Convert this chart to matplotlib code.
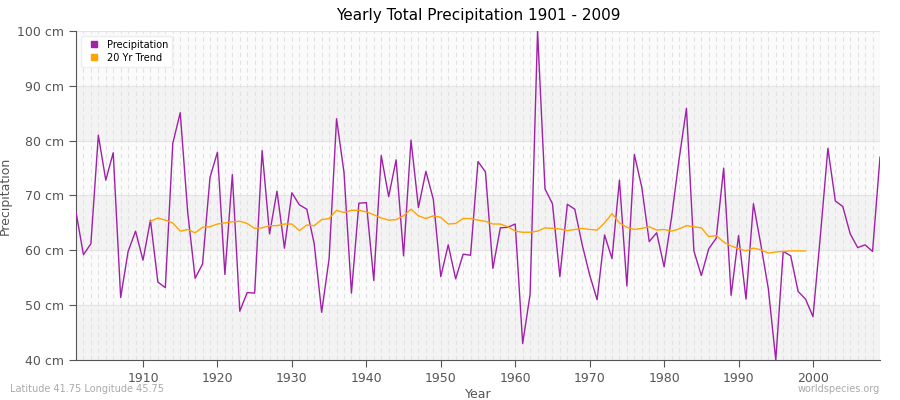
import matplotlib
matplotlib.use("Agg")
import matplotlib.pyplot as plt
import numpy as np

years = list(range(1901, 2010))
precip = [67, 59.2, 61.2, 81, 72.8, 77.8, 51.4, 59.8, 63.5, 58.2,
          65.5, 54.2, 53.2, 79.5, 85.1, 67, 54.9, 57.5, 73.3, 77.9,
          55.6, 73.8, 48.9, 52.3, 52.2, 78.2, 63, 70.8, 60.4, 70.5,
          68.3, 67.5, 61.2, 48.7, 58.5, 84, 74.2, 52.2, 68.6, 68.7,
          54.5, 77.3, 69.8, 76.5, 59, 80.1, 67.8, 74.4, 69.3, 55.2,
          61, 54.8, 59.3, 59.1, 76.2, 74.3, 56.7, 64.1, 64.2, 64.8,
          43, 52, 100, 71.2, 68.5, 55.2, 68.4, 67.5, 61, 55.5,
          51, 62.8, 58.5, 72.8, 53.5, 77.5, 71.5, 61.6, 63.2, 57,
          66, 76.5, 85.9, 59.9, 55.4, 60.3, 62.2, 75, 51.8, 62.7,
          51.1, 68.5, 61, 53, 40, 59.8, 59, 52.5, 51.1, 47.9,
          62.8, 78.6, 69, 68, 63, 60.5, 61, 59.8, 77]
trend = [65.3, 65.9, 65.5, 65, 63.5, 63.8, 63.2, 64.2, 64.3, 64.8,
         65, 65.2, 65.3, 64.9, 64, 64.1, 64.5, 64.5, 64.8, 64.8,
         63.6, 64.6, 64.5, 65.6, 65.8, 67.3, 66.9, 67.3, 67.3, 67,
         66.5, 65.9, 65.5, 65.6, 66.3, 67.5, 66.3, 65.8, 66.3, 66,
         64.8, 64.9, 65.8, 65.8, 65.5, 65.3, 64.8, 64.8, 64.3, 63.5,
         63.3, 63.3, 63.5, 64.1, 64, 63.9, 63.6, 63.8, 64, 63.8,
         63.7, 65, 66.7, 65, 64.2, 63.8, 64, 64.3, 63.7, 63.8,
         63.5, 63.9, 64.5, 64.3, 64.1, 62.5, 62.7, 61.5, 60.8, 60.3,
         59.9, 60.4, 60.1, 59.5, 59.7, 59.8, 59.9, 59.9, 59.9]
trend_years = list(range(1999 - len(trend) + 1, 2000))

fig = plt.figure(figsize=(9, 4), dpi=100)
ax = fig.add_axes([76/900, 40/400, 804/900, 329/400])
ax.set_xlim(1901, 2009)
ax.set_ylim(40, 100)
for lo in range(40, 100, 10):
    ax.axhspan(lo, lo + 10, color='#f3f3f3' if (lo // 10) % 2 == 0 else '#fbfbfb', zorder=0, lw=0)
for yv in range(40, 101, 10):
    ax.axhline(yv, color='#e4e4e4', lw=0.8, zorder=1)
for xv in range(1901, 2010):
    ax.axvline(xv, color='#e2e2e2', lw=0.8, ls=(0, (4, 3)), zorder=1)

ax.plot(years, precip, color='#a020a8', lw=1.0, zorder=3, label='Precipitation')
ax.plot(trend_years, trend, color='#ffa500', lw=1.0, zorder=3, label='20 Yr Trend')

ax.set_xticks(range(1910, 2001, 10))
ax.set_yticks(range(40, 101, 10))
ax.set_yticklabels([f"{v} cm" for v in range(40, 101, 10)])
ax.tick_params(colors='#555555', labelsize=9, length=5)
for s in ['top', 'right']:
    ax.spines[s].set_visible(False)
for s in ['left', 'bottom']:
    ax.spines[s].set_color('#555555')
ax.set_xlabel('Year', color='#555555', fontsize=9, labelpad=2)
ax.set_ylabel('Precipitation', color='#555555', fontsize=9)
ax.set_title('Yearly Total Precipitation 1901 - 2009', fontsize=11, pad=8)

h = [plt.Line2D([], [], marker='s', ls='', color='#a020a8', ms=4),
     plt.Line2D([], [], marker='s', ls='', color='#ffa500', ms=4)]
ax.legend(h, ['Precipitation', '20 Yr Trend'], loc='upper left', fontsize=7,
          frameon=True, framealpha=1, edgecolor='#eeeeee', handletextpad=0.3,
          borderpad=0.4, labelspacing=0.3)

fig.text(10/900, 8/400, 'Latitude 41.75 Longitude 45.75', color='#aaaaaa', fontsize=7)
fig.text(880/900, 8/400, 'worldspecies.org', color='#aaaaaa', fontsize=7, ha='right')
fig.savefig('out.png')
